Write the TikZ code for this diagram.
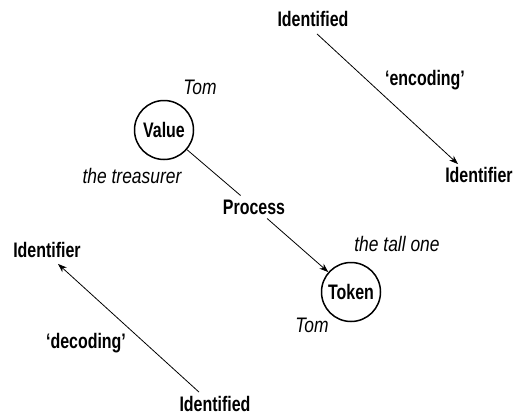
\documentclass[tikz,border=0pt]{standalone}
\usepackage{fontspec}
\setmainfont{Liberation Sans}
\newfontfamily\boldcond{Liberation Sans}[FakeStretch=0.76]
\newfontfamily\itcond{Liberation Sans}[FakeStretch=0.83]
\usetikzlibrary{arrows.meta}
\tikzset{
  bl/.style={font=\boldcond\bfseries\fontsize{21}{24}\selectfont, inner sep=4pt},
  idl/.style={bl, inner sep=6pt},
  itl/.style={font=\itcond\itshape\fontsize{21}{24}\selectfont, inner sep=2pt},
  circ/.style={bl, circle, draw, line width=1.5pt, minimum size=59pt, inner sep=0pt},
  arr/.style={line width=0.8pt, -{Stealth[length=9pt,width=6.5pt]}},
  conn/.style={line width=0.8pt}
}
\begin{document}
\begin{tikzpicture}[x=1pt,y=-1pt]
\useasboundingbox (0,0) rectangle (514,415);
% top-right pair
\node[idl] (IdTop) at (313,19) {Identified};
\node[idl] (IdRight) at (479,175) {Identifier};
\node[bl] (enc) at (425,80) {‘encoding’};
\draw[arr] ([xshift=4pt,yshift=-1pt]IdTop.south) -- ([xshift=-21pt,yshift=-3pt]IdRight.north);
% centre chain
\node[itl] (Tom1) at (200,87) {Tom};
\node[circ] (Value) at (164,130) {Value};
\node[itl] (treas) at (132,176) {the treasurer};
\node[bl] (Process) at (254,207) {Process};
\node[itl] (tall) at (397,244) {the tall one};
\node[circ] (Token) at (351,292) {Token};
\node[itl] (Tom2) at (312,325) {Tom};
\draw[conn] (Value) -- (Process);
\draw[arr] (Process) -- (Token);
% bottom-left pair
\node[idl] (IdLeft) at (47,250) {Identifier};
\node[idl] (IdBottom) at (215,404) {Identified};
\node[bl] (dec) at (86,343) {‘decoding’};
\draw[arr] ([xshift=-16pt,yshift=-2pt]IdBottom.north) -- ([xshift=11pt]IdLeft.south);
\end{tikzpicture}
\end{document}
